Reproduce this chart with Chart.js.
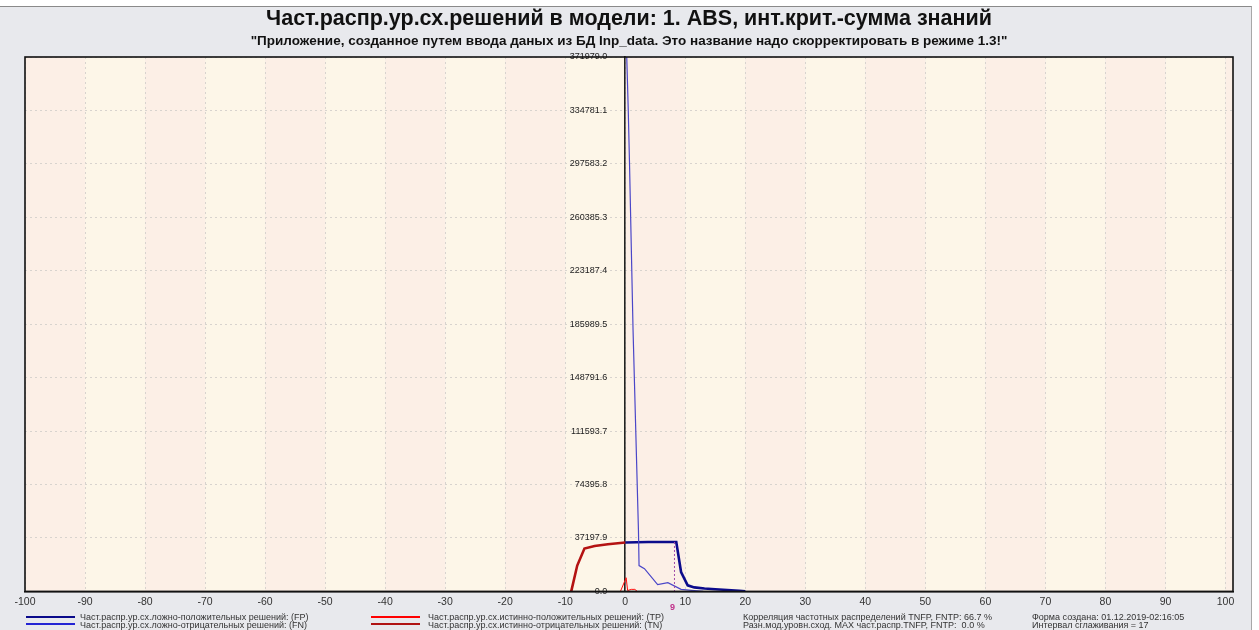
<!DOCTYPE html>
<html>
<head>
<meta charset="utf-8">
<script src="https://cdn.jsdelivr.net/npm/chart.js@4.4.1/dist/chart.umd.min.js"></script>
<style>
  html, body { margin: 0; padding: 0; background: #fff; }
  #wrap { position: relative; width: 1259px; height: 630px; overflow: hidden; }
  #frame { position: absolute; left: 0; top: 6px; width: 1251px; height: 624px;
           background: #e8e9ed; border-top: 1px solid #8a8a8a; border-right: 1px solid #a8a8a8; }
  #chart { position: absolute; left: 0; top: 0; }
  .lg { position: absolute; font-family: "Liberation Sans", Arial, sans-serif;
        font-size: 9px; line-height: 8px; color: #333; white-space: pre; }
  .ln { position: absolute; height: 2px; }
</style>
</head>
<body>
<div id="wrap">
  <div id="frame"></div>
  <canvas id="chart" width="1259" height="630"></canvas>

  <div class="ln" style="left:26px;top:616px;width:49px;background:#0a0a8a"></div>
  <div class="ln" style="left:26px;top:623px;width:49px;background:#2424d4"></div>
  <div class="lg" style="left:80px;top:613px">Част.распр.ур.сх.ложно-положительных решений: (FP)</div>
  <div class="lg" style="left:80px;top:621px">Част.распр.ур.сх.ложно-отрицательных решений: (FN)</div>

  <div class="ln" style="left:371px;top:616px;width:49px;background:#ff0000"></div>
  <div class="ln" style="left:371px;top:623px;width:49px;background:#b01414"></div>
  <div class="lg" style="left:428px;top:613px">Част.распр.ур.сх.истинно-положительных решений: (TP)</div>
  <div class="lg" style="left:428px;top:621px">Част.распр.ур.сх.истинно-отрицательных решений: (TN)</div>

  <div class="lg" style="left:743px;top:613px">Корреляция частотных распределений TNFP, FNTP: 66.7 %</div>
  <div class="lg" style="left:743px;top:621px">Разн.мод.уровн.сход. MAX част.распр.TNFP, FNTP:  0.0 %</div>

  <div class="lg" style="left:1032px;top:613px">Форма создана: 01.12.2019-02:16:05</div>
  <div class="lg" style="left:1032px;top:621px">Интервал сглаживания = 17</div>
</div>

<script>
'use strict';

// --- data ------------------------------------------------------------------
const titleText    = 'Част.распр.ур.сх.решений в модели: 1. ABS, инт.крит.-сумма знаний';
const subtitleText = '"Приложение, созданное путем ввода даных из БД Inp_data. Это название надо скорректировать в режиме 1.3!"';

const xTicks = [-100, -90, -80, -70, -60, -50, -40, -30, -20, -10, 0, 10, 20, 30, 40, 50, 60, 70, 80, 90, 100];
const yTicks = [0.0, 37197.9, 74395.8, 111593.7, 148791.6, 185989.5, 223187.4, 260385.3, 297583.2, 334781.1, 371979.0];

// FP: false positive (thick navy)
const fpX = [0, 3.8, 8.5, 9.3, 10.4, 11.5, 13.2, 15, 17, 19, 20];
const fpY = [34000, 34400, 34400, 13500, 4200, 2800, 2000, 1500, 1000, 400, 0];

// FN: false negative (thin blue)
const fnX = [0.25, 0.5, 0.7, 1.3, 2.2, 2.3, 3.2, 5.4, 7.1, 9.3, 11.5, 13];
const fnY = [371979, 335000, 300000, 182000, 42600, 18000, 15800, 4700, 6100, 1400, 500, 0];

// TP: true positive (thin red)
const tpX = [-0.8, 0.15, 0.4, 1.0, 1.6, 2.0];
const tpY = [0, 9500, 600, 1400, 1400, 0];

// TN: true negative (thick dark red)
const tnX = [-9.0, -8.0, -6.8, -5.1, -2.9, 0];
const tnY = [0, 18000, 29800, 31600, 32800, 34000];

// dotted marker and its label
const markX = [8.2, 8.2];
const markY = [34400, 0];
const markLabel = '9';

const pts = (xs, ys) => xs.map((x, i) => ({ x, y: ys[i] }));

// alternating vertical bands behind the grid
const bandsPlugin = {
    id: 'bands',
    beforeDraw(chart) {
        const { ctx, chartArea: a, scales: { x } } = chart;
        ctx.save();
        for (let i = 0; i * 10 + x.min < x.max; i++) {
            const v0 = x.min + i * 10;
            const p0 = Math.max(a.left, x.getPixelForValue(v0));
            const p1 = Math.min(a.right, x.getPixelForValue(v0 + 10));
            ctx.fillStyle = i % 2 === 0 ? '#fcefe6' : '#fdf6e8';
            ctx.fillRect(p0, a.top, p1 - p0, a.bottom - a.top);
        }
        ctx.restore();
    }
};

// black frame around the plot and the small marker label
const framePlugin = {
    id: 'frame',
    afterDraw(chart) {
        const { ctx, chartArea: a, scales: { x } } = chart;
        ctx.save();
        ctx.strokeStyle = '#111';
        ctx.lineWidth = 1.6;
        ctx.strokeRect(a.left, a.top, a.right - a.left, a.bottom - a.top);
        ctx.fillStyle = '#c0308a';
        ctx.font = 'bold 9px "Liberation Sans", Arial, sans-serif';
        ctx.textAlign = 'center';
        ctx.textBaseline = 'middle';
        ctx.fillText(markLabel, x.getPixelForValue(markX[0]) - 2, a.bottom + 16);
        ctx.restore();
    }
};

const lineSet = (data, color, width, extra = {}) => Object.assign({
    data, borderColor: color, borderWidth: width, pointRadius: 0,
    fill: false, tension: 0, showLine: true,
}, extra);

const gridColor = '#d8d3ce';

new Chart(document.getElementById('chart'), {
    type: 'line',
    data: {
        datasets: [
            lineSet(pts(markX, markY), '#a04aa8', 1, { borderDash: [2, 2] }),
            lineSet(pts(tnX, tnY), '#b41212', 2.6),
            lineSet(pts(tpX, tpY), '#ff1010', 1),
            lineSet(pts(fnX, fnY), '#4a46c8', 1.2),
            lineSet(pts(fpX, fpY), '#0c0c8c', 2.6),
        ]
    },
    options: {
        responsive: false,
        animation: false,
        devicePixelRatio: 1,
        layout: { padding: { left: 25, right: 26, top: 0, bottom: 18 } },
        plugins: {
            legend: { display: false },
            tooltip: { enabled: false },
            title: {
                display: true, text: titleText, color: '#111',
                font: { family: "'Liberation Sans', Arial", size: 21.5, weight: 'bold' },
                padding: { top: 6, bottom: 1 }
            },
            subtitle: {
                display: true, text: subtitleText, color: '#111',
                font: { family: "'Liberation Sans', Arial", size: 13.5, weight: 'bold' },
                padding: { top: 0, bottom: 8 }
            }
        },
        scales: {
            x: {
                type: 'linear', min: -100, max: 101.25,
                afterBuildTicks: s => { s.ticks = xTicks.map(value => ({ value })); },
                grid: { color: gridColor, drawTicks: false },
                border: { color: '#111', width: 1.6, dash: [2, 3] },
                ticks: { color: '#333', padding: 4, maxRotation: 0,
                         font: { family: "'Liberation Sans', Arial", size: 10.5 } }
            },
            // grid lines and the black zero line
            y: {
                type: 'linear', min: 0, max: 371979,
                position: { x: 0 },
                afterBuildTicks: s => { s.ticks = yTicks.map(value => ({ value })); },
                grid: { color: gridColor, drawTicks: false },
                border: { color: '#222', width: 1.6, dash: [2, 3] },
                ticks: { display: false }
            },
            // tick labels, set left of the zero line
            yLabels: {
                type: 'linear', axis: 'y', min: 0, max: 371979,
                position: { x: -3.0 },
                afterBuildTicks: s => { s.ticks = yTicks.map(value => ({ value })); },
                grid: { display: false, drawTicks: false },
                border: { display: false },
                ticks: { color: '#222',
                         callback: v => Number(v).toFixed(1),
                         font: { family: "'Liberation Sans', Arial", size: 9 } }
            }
        }
    },
    plugins: [bandsPlugin, framePlugin]
});
</script>
</body>
</html>
